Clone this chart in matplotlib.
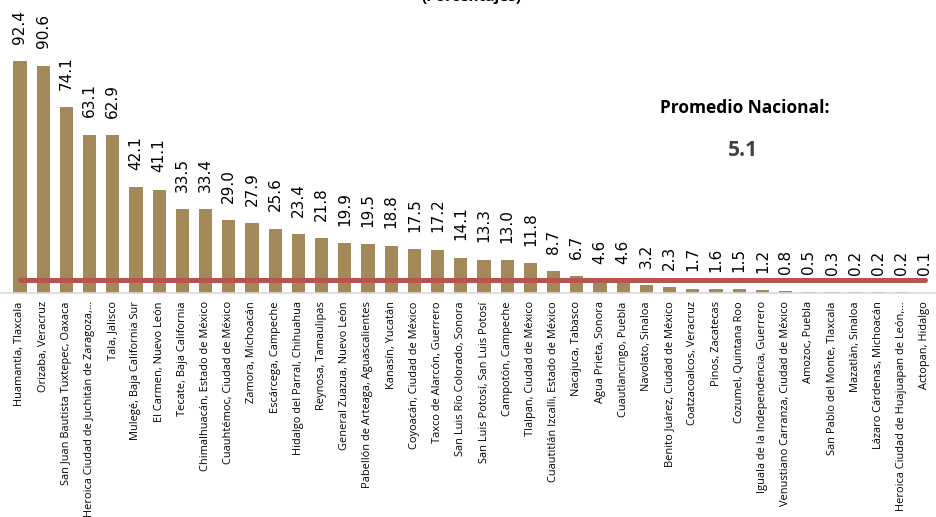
import matplotlib.pyplot as plt
import numpy as np

# Municipios y porcentajes
municipios = [
    'Huamantla, Tlaxcala', 'Orizaba, Veracruz', 'San Juan Bautista Tuxtepec, Oaxaca',
    'Heroica Ciudad de Juchitán de Zaragoza,...', 'Tala, Jalisco',
    'Mulegé, Baja California Sur', 'El Carmen, Nuevo León', 'Tecate, Baja California',
    'Chimalhuacán, Estado de México', 'Cuauhtémoc, Ciudad de México', 'Zamora, Michoacán',
    'Escárcega, Campeche', 'Hidalgo del Parral, Chihuahua', 'Reynosa, Tamaulipas',
    'General Zuazua, Nuevo León', 'Pabellón de Arteaga, Aguascalientes', 'Kanasín, Yucatán',
    'Coyoacán, Ciudad de México', 'Taxco de Alarcón, Guerrero', 'San Luis Río Colorado, Sonora',
    'San Luis Potosí, San Luis Potosí', 'Campotón, Campeche', 'Tlalpan, Ciudad de México',
    'Cuautitlán Izcalli, Estado de México', 'Nacajuca, Tabasco', 'Agua Prieta, Sonora',
    'Cuautlancingo, Puebla', 'Navolato, Sinaloa', 'Benito Juárez, Ciudad de México',
    'Coatzacoalcos, Veracruz', 'Pinos, Zacatecas', 'Cozumel, Quintana Roo',
    'Iguala de la Independencia, Guerrero', 'Venustiano Carranza, Ciudad de México',
    'Amozoc, Puebla', 'San Pablo del Monte, Tlaxcala', 'Mazatlán, Sinaloa',
    'Lázaro Cárdenas, Michoacán', 'Heroica Ciudad de Huajuapan de León,...', 'Actopan, Hidalgo',
]
porcentajes = [92.4, 90.6, 74.1, 63.1, 62.9, 42.1, 41.1, 33.5, 33.4, 29.0, 27.9, 25.6, 23.4,
               21.8, 19.9, 19.5, 18.8, 17.5, 17.2, 14.1, 13.3, 13.0, 11.8, 8.7, 6.7, 4.6, 4.6,
               3.2, 2.3, 1.7, 1.6, 1.5, 1.2, 0.8, 0.5, 0.3, 0.2, 0.2, 0.2, 0.1]
promedio_nacional = 5.1

fig = plt.figure(figsize=(9.36, 5.17), dpi=100)
ax = fig.add_axes([0, 224 / 517, 1, 251 / 517])

x = np.arange(len(municipios))
ax.bar(x, porcentajes, width=0.57, color='#A3895A', zorder=2)
# linea del promedio nacional
ax.plot(x, [promedio_nacional] * len(x), color='#B85450', linewidth=3.6,
        solid_capstyle='round', zorder=3)

for xi, v in zip(x, porcentajes):
    ax.annotate(f'{v:.1f}', (xi, v), xytext=(0, 12.5), textcoords='offset points',
                rotation=90, ha='center', va='bottom', fontsize=11,
                family='DejaVu Sans', color='black', annotation_clip=False)

ax.set_xlim(-0.86, 39.48)
ax.set_ylim(0, 100)
ax.set_xticks(x)
ax.set_xticklabels(municipios, rotation=90, fontsize=7.9, family='Open Sans')
ax.tick_params(axis='x', length=0, pad=6)
ax.set_yticks([])
for s in ['top', 'right', 'left']:
    ax.spines[s].set_visible(False)
ax.spines['bottom'].set_color('#D9D9D9')
ax.spines['bottom'].set_linewidth(1.2)
ax.patch.set_alpha(0)

fig.text(745 / 936, 1 - 108 / 517, 'Promedio Nacional:', ha='center', va='center',
         fontsize=12.5, fontweight='bold', family='Open Sans')
fig.text(743 / 936, 1 - 150 / 517, f'{promedio_nacional}', ha='center', va='center',
         fontsize=15, fontweight='bold', family='Open Sans', color='#404040')
fig.text(471 / 936, 1 + 3 / 517, '(Porcentajes)', ha='center', va='center',
         fontsize=11, fontweight='bold', family='Open Sans')

fig.savefig('out.png', dpi=100)
